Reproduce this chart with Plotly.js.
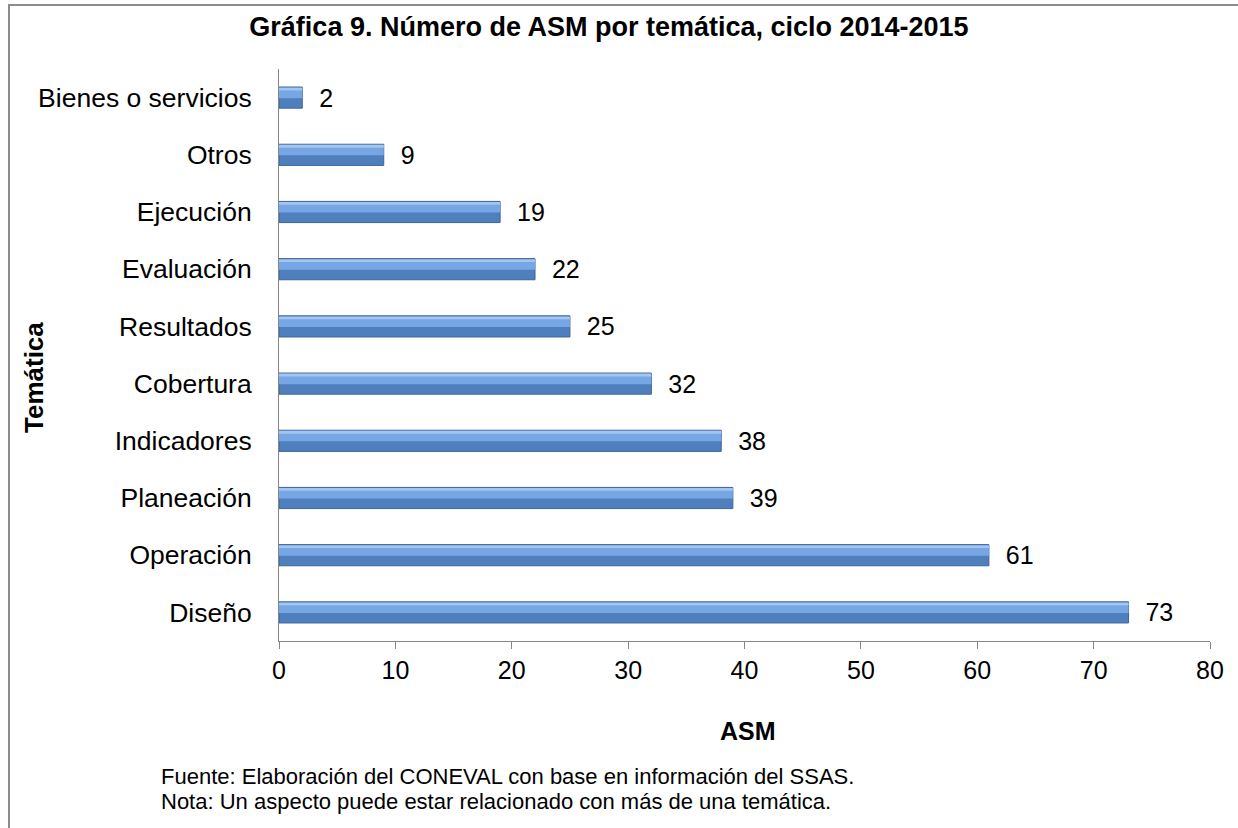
<!DOCTYPE html>
<html>
<head>
<meta charset="utf-8">
<script src="https://cdn.plot.ly/plotly-3.0.1.min.js"></script>
<style>
  html, body { margin: 0; padding: 0; background: #ffffff; overflow: hidden; }
  #wrap { position: relative; width: 1238px; height: 828px; overflow: hidden; }
  #chart { position: absolute; left: 0; top: 0; width: 1238px; height: 828px; }
  #frame { position: absolute; left: 8px; top: 4px; width: 1240px; height: 830px;
           border-left: 2px solid #8c8c8c; border-top: 2px solid #8c8c8c; pointer-events: none; }
</style>
</head>
<body>
<div id="wrap">
  <div id="chart"></div>
  <div id="frame"></div>
</div>
<script>
// Data (bottom to top)
const categories = ['Diseño', 'Operación', 'Planeación', 'Indicadores', 'Cobertura',
                    'Resultados', 'Evaluación', 'Ejecución', 'Otros', 'Bienes o servicios'];
const values = [73, 61, 39, 38, 32, 25, 22, 19, 9, 2];
const xTicks = [0, 10, 20, 30, 40, 50, 60, 70, 80];

const titleText = 'Gráfica 9. Número de ASM por temática, ciclo 2014-2015';
const xTitle = 'ASM';
const yTitle = 'Temática';
const note1 = 'Fuente: Elaboración del CONEVAL con base en información del SSAS.';
const note2 = 'Nota: Un aspecto puede estar relacionado con más de una temática.';

const FONT = 'Arial, "Liberation Sans", Helvetica, sans-serif';
const W = 1238, H = 828;
const L = 279, R = 28, T = 69, B = 187;
const PW = W - L - R, PH = H - T - B;
const px = x => (x - L) / PW;
const py = y => (H - B - y) / PH;

const barBase = {
  type: 'bar', orientation: 'h', x: values, y: categories,
  width: 0.37,
  marker: { color: '#4f7fbd', line: { color: '#3d6699', width: 1 } },
  text: values.map(v => '  ' + v), textposition: 'outside', cliponaxis: false,
  constraintext: 'none',
  textfont: { family: FONT, size: 25, color: '#000000' },
  hoverinfo: 'x+y', showlegend: false
};
const barMid = {
  type: 'bar', orientation: 'h', x: values, y: categories,
  width: 0.17, offset: -0.01,
  marker: { color: '#76a7e4', line: { width: 0 } },
  hoverinfo: 'skip', showlegend: false
};
const barTop = {
  type: 'bar', orientation: 'h', x: values, y: categories,
  width: 0.05, offset: 0.125,
  marker: { color: '#a3c5f0', line: { width: 0 } },
  hoverinfo: 'skip', showlegend: false
};

const layout = {
  width: W, height: H,
  margin: { l: L, r: R, t: T, b: B, pad: 0 },
  paper_bgcolor: '#ffffff', plot_bgcolor: '#ffffff',
  barmode: 'overlay',
  font: { family: FONT, color: '#000000' },
  title: {
    text: '<b>' + titleText + '</b>',
    font: { family: FONT, size: 27, color: '#000000' },
    x: 609 / W, xanchor: 'center', xref: 'container',
    y: 1 - 27 / H, yanchor: 'middle', yref: 'container'
  },
  xaxis: {
    range: [0, 80], tickvals: xTicks, ticktext: xTicks.map(String),
    showgrid: false, zeroline: false,
    showline: true, linecolor: '#868686', linewidth: 1,
    ticks: 'outside', ticklen: 7, tickcolor: '#868686', tickwidth: 1,
    tickfont: { family: FONT, size: 25, color: '#000000' },
    fixedrange: true
  },
  yaxis: {
    type: 'category', categoryorder: 'array', categoryarray: categories,
    range: [-0.5, 9.5],
    showgrid: false, zeroline: false,
    showline: true, linecolor: '#868686', linewidth: 1,
    ticks: '', ticklabelstandoff: 21,
    tickfont: { family: FONT, size: 26.5, color: '#000000' },
    fixedrange: true
  },
  annotations: [
    { text: '<b>' + xTitle + '</b>', xref: 'paper', yref: 'paper',
      x: px(748), y: py(731), xanchor: 'center', yanchor: 'middle', showarrow: false,
      font: { family: FONT, size: 25, color: '#000000' } },
    { text: '<b>' + yTitle + '</b>', xref: 'paper', yref: 'paper', textangle: -90,
      x: px(34), y: py(378), xanchor: 'center', yanchor: 'middle', showarrow: false,
      font: { family: FONT, size: 26, color: '#000000' } },
    { text: note1, xref: 'paper', yref: 'paper',
      x: px(159), y: py(776), xanchor: 'left', yanchor: 'middle', showarrow: false,
      font: { family: FONT, size: 22, color: '#000000' } },
    { text: note2, xref: 'paper', yref: 'paper',
      x: px(159), y: py(801), xanchor: 'left', yanchor: 'middle', showarrow: false,
      font: { family: FONT, size: 22, color: '#000000' } }
  ]
};

Plotly.newPlot('chart', [barBase, barMid, barTop], layout, { displayModeBar: false, staticPlot: true });
</script>
</body>
</html>
